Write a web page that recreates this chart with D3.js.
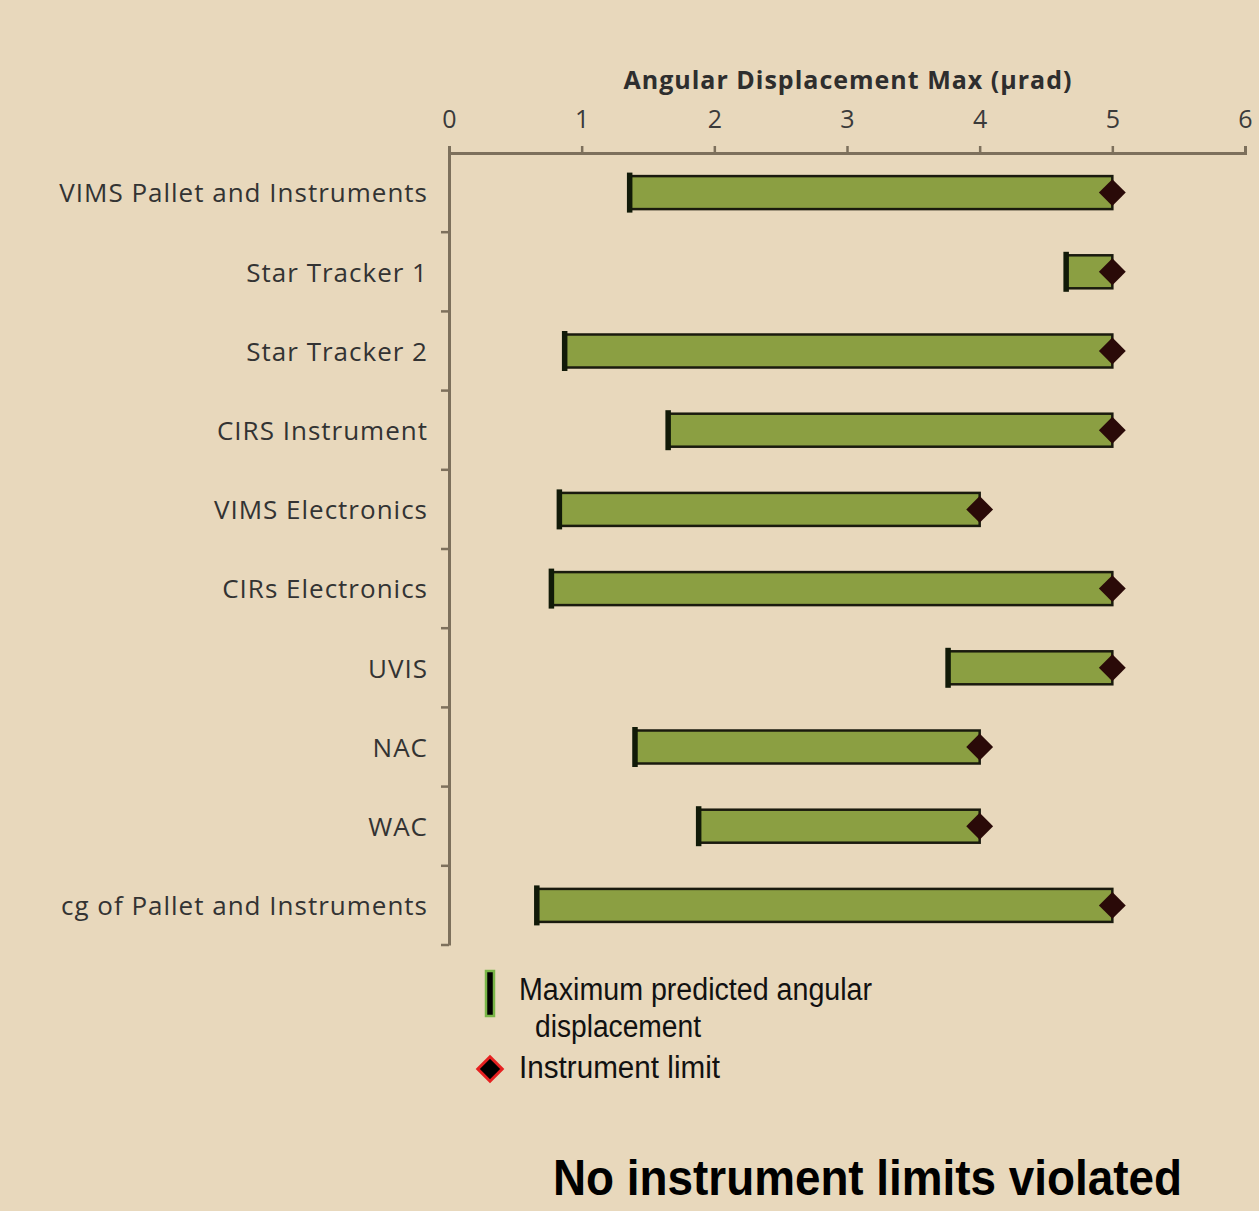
<!DOCTYPE html>
<html>
<head>
<meta charset="utf-8">
<script src="https://cdn.jsdelivr.net/npm/d3@7"></script>
<style>
  html, body { margin: 0; padding: 0; background: #e8d8bc; }
  svg { display: block; }
</style>
</head>
<body>
<div id="chart"></div>
<script>
const categories = ["VIMS Pallet and Instruments", "Star Tracker 1", "Star Tracker 2", "CIRS Instrument",
  "VIMS Electronics", "CIRs Electronics", "UVIS", "NAC", "WAC", "cg of Pallet and Instruments"];
const predicted = [1.36, 4.65, 0.87, 1.65, 0.83, 0.77, 3.76, 1.40, 1.88, 0.66];
const limits = [5, 5, 5, 5, 4, 5, 5, 4, 4, 5];
const xTicks = [0, 1, 2, 3, 4, 5, 6];

const width = 1259, height = 1211;
const margin = { top: 153, left: 449, right: 14, bottom: 266 };

const svg = d3.select("#chart")
  .append("svg")
  .attr("width", width)
  .attr("height", height);

svg.append("rect")
  .attr("width", width)
  .attr("height", height)
  .attr("fill", "#e8d8bc");

const x = d3.scaleLinear()
  .domain([0, 6])
  .range([margin.left, width - margin.right]);

const y = d3.scaleBand()
  .domain(categories)
  .range([margin.top, height - margin.bottom]);

const axisColor = "#7d705c";
const labelFont = "'Open Sans', Lato, sans-serif";

// top axis
const xAxis = svg.append("g")
  .attr("transform", `translate(0,${margin.top})`)
  .call(d3.axisTop(x).tickValues(xTicks).tickFormat(d3.format("d")).tickSize(7).tickPadding(18));
xAxis.select(".domain").attr("stroke", axisColor).attr("stroke-width", 3);
xAxis.selectAll(".tick line").attr("stroke", axisColor).attr("stroke-width", 2.5);
xAxis.selectAll(".tick text")
  .attr("font-family", labelFont)
  .attr("font-size", 25)
  .attr("fill", "#3a3a3a");

svg.append("text")
  .attr("x", 848)
  .attr("y", 89)
  .attr("text-anchor", "middle")
  .attr("font-family", labelFont)
  .attr("font-weight", "bold")
  .attr("font-size", 25)
  .attr("letter-spacing", 1)
  .attr("fill", "#2e2e2e")
  .text("Angular Displacement Max (\u00b5rad)");

// left axis
const yAxis = svg.append("g")
  .attr("transform", `translate(${margin.left},0)`)
  .call(d3.axisLeft(y).tickSize(0).tickPadding(21));
yAxis.select(".domain").attr("stroke", axisColor).attr("stroke-width", 3);
yAxis.selectAll(".tick text")
  .attr("font-family", labelFont)
  .attr("font-size", 26)
  .attr("letter-spacing", 1)
  .attr("dy", "0.38em")
  .attr("fill", "#333");

// small ticks at band boundaries
const bounds = categories.map(c => y(c)).concat([y.range()[1]]);
svg.append("g")
  .selectAll("line")
  .data(bounds.slice(1))
  .join("line")
  .attr("x1", margin.left - 8)
  .attr("x2", margin.left)
  .attr("y1", d => d)
  .attr("y2", d => d)
  .attr("stroke", axisColor)
  .attr("stroke-width", 2.5);

const data = categories.map((c, i) => ({ name: c, lo: predicted[i], hi: limits[i] }));
const barH = 33;

const rows = svg.append("g")
  .selectAll("g")
  .data(data)
  .join("g")
  .attr("transform", d => `translate(0,${y(d.name) + y.bandwidth() / 2})`);

rows.append("rect")
  .attr("x", d => x(d.lo))
  .attr("y", -barH / 2)
  .attr("width", d => x(d.hi) - x(d.lo))
  .attr("height", barH)
  .attr("fill", "#8b9f42")
  .attr("stroke", "#1a1a0e")
  .attr("stroke-width", 2.5);

rows.append("rect")
  .attr("x", d => x(d.lo) - 2.5)
  .attr("y", -20)
  .attr("width", 5.5)
  .attr("height", 40)
  .attr("fill", "#111a08");

rows.append("path")
  .attr("transform", d => `translate(${x(d.hi)},0)`)
  .attr("d", d3.symbol(d3.symbolDiamond2, 460))
  .attr("fill", "#2a0a08");

// legend
const legend = svg.append("g").attr("font-family", "'Liberation Sans Narrow', 'Arial Narrow', sans-serif")
  .attr("font-size", 31)
  .attr("fill", "#111");

legend.append("rect")
  .attr("x", 486)
  .attr("y", 971)
  .attr("width", 8)
  .attr("height", 45)
  .attr("fill", "#000")
  .attr("stroke", "#7ab648")
  .attr("stroke-width", 2.5);

const legendLines = [
  { text: "Maximum predicted angular", x: 519, y: 1000, len: 353 },
  { text: "displacement", x: 535, y: 1037, len: 166 },
  { text: "Instrument limit", x: 519, y: 1078, len: 201 }
];
legend.selectAll("text")
  .data(legendLines)
  .join("text")
  .attr("x", d => d.x)
  .attr("y", d => d.y)
  .attr("textLength", d => d.len)
  .attr("lengthAdjust", "spacingAndGlyphs")
  .text(d => d.text);

legend.append("path")
  .attr("transform", "translate(490,1069)")
  .attr("d", d3.symbol(d3.symbolDiamond2, 380))
  .attr("fill", "#000")
  .attr("stroke", "#e62020")
  .attr("stroke-width", 3);

svg.append("text")
  .attr("x", 553)
  .attr("y", 1195)
  .attr("font-family", "'Liberation Sans Narrow', 'Arial Narrow', sans-serif")
  .attr("font-weight", "bold")
  .attr("font-size", 50)
  .attr("fill", "#000")
  .attr("textLength", 629)
  .attr("lengthAdjust", "spacingAndGlyphs")
  .text("No instrument limits violated");
</script>
</body>
</html>
